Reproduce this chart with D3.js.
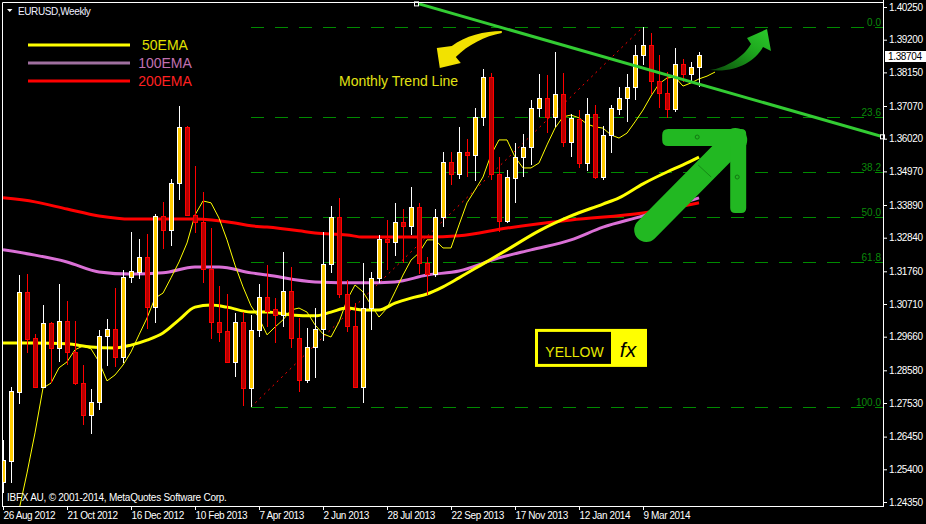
<!DOCTYPE html>
<html><head><meta charset="utf-8">
<script src="https://cdn.jsdelivr.net/npm/d3@7"></script>
<style>
html,body{margin:0;padding:0;background:#000;}
svg{display:block;}
text{font-family:"Liberation Sans",Arial,sans-serif;}
</style></head><body>
<svg id="c" width="926" height="524"></svg>
<script>
// ---------------- DATA ----------------
const title = "EURUSD,Weekly";
const copyright = "IBFX AU, \u00A9 2001-2014, MetaQuotes Software Corp.";
const dateIdx = [0,8,16,24,32,40,48,56,64,72,80];
const dateLabels = ["26 Aug 2012","21 Oct 2012","16 Dec 2012","10 Feb 2013","7 Apr 2013","2 Jun 2013","28 Jul 2013","22 Sep 2013","17 Nov 2013","12 Jan 2014","9 Mar 2014"];
const priceTicks = [1.40250,1.39200,1.38150,1.37070,1.36020,1.34970,1.33890,1.32840,1.31760,1.30710,1.29660,1.28580,1.27530,1.26450,1.25400,1.24350];
const lastPrice = 1.38704;

const opens = [1.2499,1.2567,1.2788,1.3110,1.2962,1.2805,1.3010,1.2930,1.3017,1.2917,
1.2817,1.2715,1.2756,1.2968,1.2991,1.2901,1.3158,1.3174,1.3222,1.3061,
1.3354,1.3309,1.3460,1.3640,1.3357,1.3334,1.3184,1.3013,1.2984,1.2885,
1.3013,1.2801,1.2988,1.3094,1.3055,1.3036,1.3113,1.2962,1.2827,1.2933,
1.2991,1.3200,1.3351,1.3103,1.3000,1.2805,1.3058,1.3155,1.3280,1.3270,
1.3334,1.3322,1.3383,1.3203,1.3167,1.3351,1.3527,1.3489,1.3559,1.3550,
1.3672,1.3800,1.3489,1.3338,1.3476,1.3543,1.3575,1.3701,1.3733,1.3672,
1.3746,1.3591,1.3665,1.3524,1.3681,1.3479,1.3614,1.3697,1.3733,1.3768,
1.3871,1.3903,1.3787,1.3749,1.3697,1.3842,1.3810,1.3832];
const highs = [1.2634,1.2805,1.3164,1.3167,1.2975,1.3068,1.3013,1.3135,1.3081,1.3017,
1.2875,1.2798,1.2988,1.3023,1.3122,1.3180,1.3302,1.3280,1.3296,1.3360,
1.3399,1.3473,1.3707,1.3643,1.3514,1.3431,1.3315,1.3129,1.3103,1.3042,
1.3045,1.3036,1.3135,1.3196,1.3090,1.3238,1.3190,1.3026,1.2994,1.3058,
1.3302,1.3386,1.3412,1.3148,1.3074,1.3203,1.3174,1.3293,1.3341,1.3396,
1.3376,1.3447,1.3396,1.3222,1.3376,1.3559,1.3559,1.3640,1.3601,1.3701,
1.3826,1.3813,1.3543,1.3502,1.3588,1.3617,1.3726,1.3810,1.3807,1.3881,
1.3813,1.3681,1.3694,1.3733,1.3710,1.3643,1.3710,1.3768,1.3810,1.3903,
1.3961,1.3942,1.3871,1.3816,1.3893,1.3858,1.3848,1.3881];
const lows = [1.2464,1.2496,1.2750,1.2914,1.2801,1.2801,1.2817,1.2885,1.2875,1.2811,
1.2682,1.2654,1.2731,1.2872,1.2869,1.2882,1.3139,1.3151,1.2991,1.3010,
1.3248,1.3257,1.3405,1.3354,1.3299,1.3139,1.2959,1.2949,1.2882,1.2837,
1.2743,1.2740,1.2965,1.2997,1.2946,1.2997,1.2930,1.2788,1.2817,1.2833,
1.2952,1.3171,1.3090,1.2981,1.2801,1.2753,1.2988,1.3139,1.3180,1.3225,
1.3203,1.3293,1.3167,1.3100,1.3158,1.3318,1.3453,1.3473,1.3479,1.3466,
1.3643,1.3469,1.3302,1.3331,1.3396,1.3479,1.3518,1.3672,1.3620,1.3640,
1.3575,1.3543,1.3508,1.3498,1.3473,1.3469,1.3556,1.3678,1.3656,1.3726,
1.3839,1.3746,1.3701,1.3669,1.3688,1.3784,1.3781,1.3768];
const closes = [1.2570,1.2792,1.3110,1.2959,1.2805,1.3010,1.2930,1.3017,1.2917,1.2817,
1.2715,1.2756,1.2968,1.2991,1.2901,1.3158,1.3177,1.3222,1.3061,1.3354,
1.3309,1.3460,1.3640,1.3357,1.3334,1.3184,1.3013,1.2981,1.2885,1.3013,
1.2801,1.2988,1.3094,1.3049,1.3036,1.3113,1.2962,1.2827,1.2933,1.2991,
1.3200,1.3351,1.3103,1.3000,1.2805,1.3058,1.3155,1.3280,1.3270,1.3334,
1.3322,1.3383,1.3203,1.3167,1.3351,1.3527,1.3489,1.3559,1.3550,1.3672,
1.3800,1.3489,1.3338,1.3479,1.3543,1.3575,1.3701,1.3733,1.3672,1.3746,
1.3591,1.3669,1.3524,1.3681,1.3479,1.3614,1.3701,1.3733,1.3768,1.3871,
1.3903,1.3787,1.3749,1.3697,1.3842,1.3810,1.3832,1.38704];

// short moving average (shifted), starts at bar 2
const fastStart = 2;
const fastMA = [1.2409,1.2528,1.2657,1.2801,1.2817,1.2866,1.2885,1.2924,1.2936,1.2927,
1.2885,1.2824,1.2843,1.2875,1.2917,1.2972,1.3026,1.3090,1.3106,1.3155,
1.3206,1.3267,1.3357,1.3402,1.3396,1.3347,1.3277,1.3196,1.3126,1.3065,
1.3026,1.2972,1.2997,1.3020,1.3052,1.3058,1.3045,1.3004,1.2975,1.2965,
1.3013,1.3084,1.3132,1.3110,1.3068,1.3029,1.3058,1.3110,1.3164,1.3212,
1.3235,1.3277,1.3277,1.3251,1.3251,1.3325,1.3396,1.3437,1.3479,1.3550,
1.3598,1.3598,1.3543,1.3508,1.3508,1.3524,1.3582,1.3636,1.3672,1.3678,
1.3669,1.3649,1.3640,1.3636,1.3614,1.3604,1.3620,1.3656,1.3694,1.3739,
1.3778,1.3797,1.3800,1.3771,1.3781,1.3794,1.3803,1.3816];

const ema50Idx = [0,4,8,11,14,16,18,20,22,24,26,28,31,33,36,39,41,43,45,47,49,51,53,55,57,60,63,67,71,75,77,80,83,85,87];
const ema50Val = [1.2946,1.2946,1.2943,1.2933,1.2930,1.2939,1.2955,1.2978,1.3020,1.3061,1.3068,1.3061,1.3045,1.3045,1.3036,1.3033,1.3045,1.3058,1.3052,1.3052,1.3074,1.3090,1.3103,1.3126,1.3155,1.3200,1.3245,1.3306,1.3354,1.3392,1.3412,1.3457,1.3495,1.3518,1.3543];
const ema100Idx = [0,4,8,12,16,20,24,27,31,33,39,45,49,53,57,62,66,71,75,80,85,87];
const ema100Val = [1.3245,1.3228,1.3206,1.3174,1.3167,1.3171,1.3190,1.3190,1.3171,1.3164,1.3142,1.3139,1.3142,1.3164,1.3177,1.3219,1.3245,1.3277,1.3318,1.3354,1.3396,1.3412];
const ema200Idx = [0,4,8,12,16,20,24,29,31,33,37,39,43,45,49,53,57,63,71,80,85,87];
const ema200Val = [1.3412,1.3399,1.3376,1.3354,1.3344,1.3344,1.3344,1.3331,1.3322,1.3318,1.3306,1.3299,1.3293,1.3286,1.3286,1.3286,1.3290,1.3315,1.3341,1.3363,1.3386,1.3396];

const legendLabels = ["50EMA","100EMA","200EMA"];

// Fibonacci retracement (low bar -> high bar)
const fibLowIdx = 31, fibLow = 1.2740;
const fibHighIdx = 80, fibHigh = 1.3961;
const fibLevels = [0,23.6,38.2,50,61.8,100];
const fibLabels = ["0.0","23.6","38.2","50.0","61.8","100.0"];

// Monthly trend line (bar index, price)
const trendIdx = [52,110];
const trendVal = [1.4035,1.3608];

// annotation anchors (bar index, price)
const noteText = "Monthly Trend Line";
const noteAnchor = [42,1.3771];
const yellowArrowTip = [54.6,1.3829];
const greenCurveTip = [95.5,1.3954];
const bigArrowCorner = [92.9,1.3633];
const logoAnchor = [66.5,1.2991];
const logoWord = "YELLOW", logoMark = "fx";

// ---------------- CHART ----------------
const svg = d3.select("#c");
const L=3, T=3, R=883, B=506;
const x = d3.scaleLinear().domain([0,110]).range([3,883]);
const y = d3.scaleLinear().domain([1.24350,1.40250]).range([502,7]);

svg.append("rect").attr("width",926).attr("height",524).attr("fill","#000");
const defs = svg.append("defs");
defs.append("clipPath").attr("id","plot").append("rect")
  .attr("x",L).attr("y",T).attr("width",R-L).attr("height",B-T);
const g = svg.append("g").attr("clip-path","url(#plot)");

// fibonacci
const fr = fibHigh-fibLow;
fibLevels.forEach((lv,k)=>{
  const py = Math.round(y(fibHigh - fr*lv/100))+0.5;
  g.append("line").attr("x1",x(fibLowIdx)).attr("x2",R).attr("y1",py).attr("y2",py)
   .attr("stroke","#008a00").attr("stroke-width",1).attr("stroke-dasharray","13,11");
  svg.append("text").attr("x",881).attr("y",py-2).attr("text-anchor","end")
   .attr("font-size","10px").attr("fill","#0a8a0a").text(fibLabels[k]);
});
g.append("line").attr("x1",x(fibLowIdx)).attr("y1",y(fibLow)).attr("x2",x(fibHighIdx)).attr("y2",y(fibHigh))
 .attr("stroke","#ff0000").attr("stroke-width",1).attr("stroke-dasharray","2,4");

// moving averages
const smooth = d3.line().x(d=>x(d[0])).y(d=>y(d[1])).curve(d3.curveMonotoneX);
g.append("path").attr("d",smooth(d3.zip(ema200Idx,ema200Val))).attr("fill","none").attr("stroke","#ff0000").attr("stroke-width",3);
g.append("path").attr("d",smooth(d3.zip(ema100Idx,ema100Val))).attr("fill","none").attr("stroke","#da70d6").attr("stroke-width",3);
g.append("path").attr("d",smooth(d3.zip(ema50Idx,ema50Val))).attr("fill","none").attr("stroke","#ffff00").attr("stroke-width",3);
const straight = d3.line().x(d=>x(d[0])).y(d=>y(d[1]));
g.append("path").attr("d",straight(fastMA.map((v,i)=>[i+fastStart,v]))).attr("fill","none").attr("stroke","#ffff00").attr("stroke-width",1);

// candles
opens.forEach((o,i)=>{
  const c = closes[i], bull = c>=o;
  const cx = Math.round(x(i));
  const wick = bull?"#ffffff":"#ff0000";
  const yh = Math.round(y(highs[i])), yl = Math.round(y(lows[i]));
  g.append("rect").attr("x",cx).attr("y",yh).attr("width",1).attr("height",Math.max(1,yl-yh)).attr("fill",wick);
  const top = Math.round(y(Math.max(o,c))), bot = Math.round(y(Math.min(o,c)));
  const h = Math.max(1,bot-top);
  g.append("rect").attr("x",cx-2).attr("y",top).attr("width",5).attr("height",h+1).attr("fill",wick);
  if(h>1) g.append("rect").attr("x",cx-1).attr("y",top+1).attr("width",3).attr("height",h-1).attr("fill",bull?"#ffcc00":"#b80000");
});

// trend line
const tx1=x(trendIdx[0]), ty1=y(trendVal[0]), tx2=x(trendIdx[1]), ty2=y(trendVal[1]);
g.append("line").attr("x1",tx1).attr("y1",ty1).attr("x2",tx2).attr("y2",ty2).attr("stroke","#33cc33").attr("stroke-width",3);
svg.append("rect").attr("x",tx1-4.5).attr("y",ty1-2).attr("width",4).attr("height",4).attr("fill","#000").attr("stroke","#fff").attr("stroke-width",1);
svg.append("rect").attr("x",tx2-2.5).attr("y",ty2-2).attr("width",4).attr("height",4).attr("fill","#000").attr("stroke","#fff").attr("stroke-width",1);

// annotation: yellow curved arrow + text
const ya = [x(yellowArrowTip[0]), y(yellowArrowTip[1])];
svg.append("path").attr("transform",`translate(${ya[0]},${ya[1]})`)
  .attr("d","M62,-37 C45,-37 25,-32 12,-22 L-3,-20 L0,0 L21,-5 L16,-11 C28,-23 45,-32 62,-35 Z")
  .attr("fill","#f2e200");
svg.append("text").attr("x",x(noteAnchor[0])).attr("y",y(noteAnchor[1])).attr("font-size","14px").attr("fill","#e2e214").text(noteText);

// green curved arrow
const gg = defs.append("linearGradient").attr("id","gcurve").attr("x1","0").attr("y1","1").attr("x2","1").attr("y2","0");
gg.append("stop").attr("offset","0").attr("stop-color","#0b4a0b");
gg.append("stop").attr("offset","0.6").attr("stop-color","#1ea81e");
gg.append("stop").attr("offset","1").attr("stop-color","#2ccc2c");
const gc = [x(greenCurveTip[0]), y(greenCurveTip[1])];
svg.append("path").attr("transform",`translate(${gc[0]},${gc[1]})`)
  .attr("d","M-57,41 C-42,39 -24,29 -16,15 L-20,9 L0,0 L4,22 L-4,18 C-12,33 -32,44 -57,41 Z")
  .attr("fill","url(#gcurve)");

// big green arrow
const ba = [x(bigArrowCorner[0]), y(bigArrowCorner[1])];
const bg = svg.append("g").attr("transform",`translate(${ba[0]},${ba[1]})`);
bg.append("line").attr("x1",-100).attr("y1",101).attr("x2",-11).attr("y2",11)
  .attr("stroke","#22b822").attr("stroke-width",24).attr("stroke-linecap","round");
bg.append("path").attr("d","M-78,0 L-5,0 Q0,0 0,5 L0,79 Q0,84 -5,84 L-11,84 Q-16,84 -16,79 L-16,17 L-78,17 Q-84,17 -84,11 L-84,6 Q-84,0 -78,0 Z")
  .attr("fill","#22b822");
bg.append("line").attr("x1",-48).attr("y1",36).attr("x2",-35).attr("y2",48).attr("stroke","#158a15").attr("stroke-width",1);
bg.append("circle").attr("cx",-49).attr("cy",8).attr("r",2).attr("fill","none").attr("stroke","#127a12");
bg.append("circle").attr("cx",-9).attr("cy",48).attr("r",2).attr("fill","none").attr("stroke","#127a12");

// logo
const la = [x(logoAnchor[0]), y(logoAnchor[1])];
const lg = svg.append("g").attr("transform",`translate(${la[0]},${la[1]})`);
lg.append("rect").attr("width",112).attr("height",38).attr("fill","#ffff00");
lg.append("rect").attr("x",3).attr("y",3).attr("width",73).attr("height",32).attr("fill","#000");
lg.append("text").attr("x",39.5).attr("y",28).attr("text-anchor","middle").attr("font-size","14px").attr("fill","#e8e800").text(logoWord);
lg.append("text").attr("x",93).attr("y",28).attr("text-anchor","middle").attr("font-size","21px")
  .attr("font-style","italic").attr("font-family","'DejaVu Serif','Liberation Serif',serif").attr("fill","#000").text(logoMark);

// frame
svg.append("line").attr("x1",L-0.5).attr("x2",R).attr("y1",2.5).attr("y2",2.5).attr("stroke","#fff");
svg.append("line").attr("x1",2.5).attr("x2",2.5).attr("y1",2.5).attr("y2",B+0.5).attr("stroke","#fff");
svg.append("line").attr("x1",R+0.5).attr("x2",R+0.5).attr("y1",0).attr("y2",B+1).attr("stroke","#fff");
svg.append("line").attr("x1",2).attr("x2",R+1).attr("y1",B+0.5).attr("y2",B+0.5).attr("stroke","#fff");

// y axis
const ya_ = svg.append("g").attr("transform",`translate(${R},0)`)
  .call(d3.axisRight(y).tickValues(priceTicks).tickSize(4).tickSizeOuter(0).tickPadding(2).tickFormat(d3.format(".5f")));
ya_.select(".domain").remove();
ya_.selectAll("line").attr("stroke","#fff");
ya_.selectAll("text").attr("fill","#fff").attr("font-size","10px").attr("letter-spacing","-0.35px")
  .attr("font-family","'Liberation Sans',Arial,sans-serif");

// last price box
const yl = Math.round(y(lastPrice));
svg.append("rect").attr("x",R+2).attr("y",yl-4).attr("width",41).attr("height",11).attr("fill","#fff");
svg.append("text").attr("x",R+5).attr("y",yl+5).attr("font-size","10px").attr("letter-spacing","-0.35px").attr("fill","#000").text(d3.format(".5f")(lastPrice));

// x axis
const xa = svg.append("g").attr("transform",`translate(0,${B})`)
  .call(d3.axisBottom(x).tickValues(dateIdx).tickSize(4).tickSizeOuter(0).tickFormat((d,i)=>dateLabels[i]));
xa.select(".domain").remove();
xa.selectAll("line").attr("stroke","#fff");
xa.selectAll("text").attr("fill","#fff").attr("font-size","10px").attr("letter-spacing","-0.4px")
  .attr("text-anchor","start").attr("y",6).attr("x",0).attr("font-family","'Liberation Sans',Arial,sans-serif");

// title, copyright
svg.append("path").attr("d","M7,9 L12.5,9 L9.75,12 Z").attr("fill","#fff");
svg.append("text").attr("x",18).attr("y",15).attr("font-size","10px").attr("letter-spacing","-0.4px").attr("fill","#eef0ff").text(title);
svg.append("text").attr("x",7).attr("y",501).attr("font-size","10px").attr("letter-spacing","-0.25px").attr("fill","#fff").text(copyright);

// legend
const legColors = ["#ffff00","#a070a0","#ff0000"];
const legText = ["#e0e000","#c070b0","#ff2020"];
legendLabels.forEach((lab,k)=>{
  const ly = 45 + k*18;
  svg.append("line").attr("x1",28).attr("x2",130).attr("y1",ly).attr("y2",ly).attr("stroke",legColors[k]).attr("stroke-width",3);
  svg.append("text").attr("x",165).attr("y",ly+4.5).attr("text-anchor","middle").attr("font-size","14px").attr("fill",legText[k]).text(lab);
});
</script>
</body></html>
